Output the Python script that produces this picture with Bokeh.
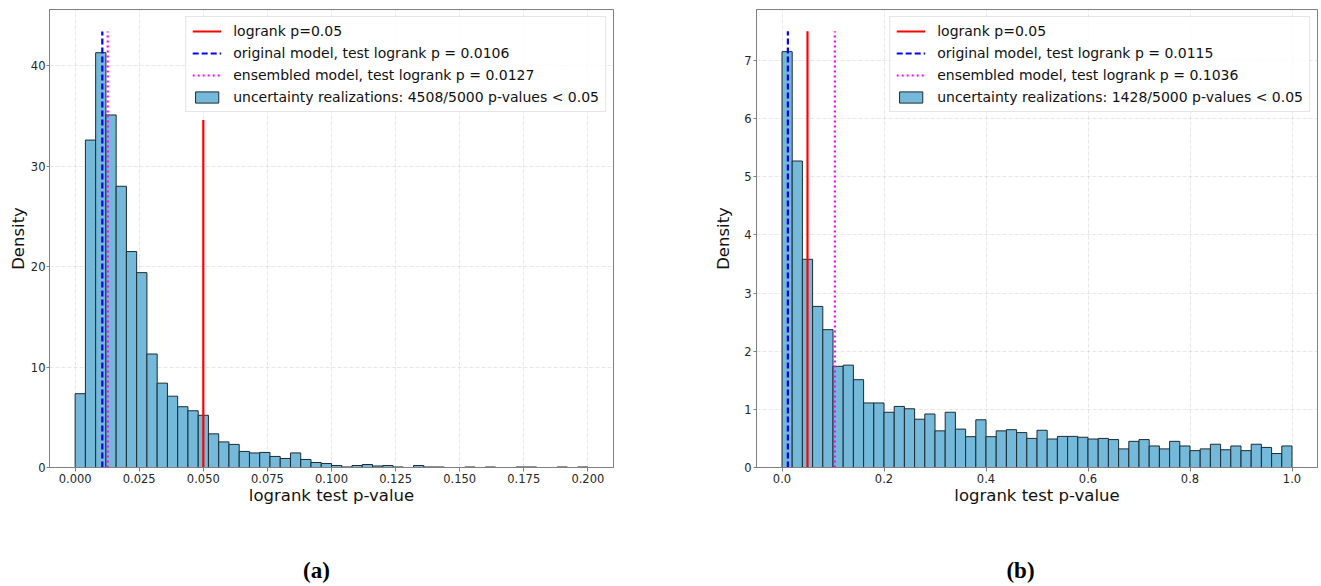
import numpy as np
from bokeh.plotting import figure
from bokeh.models import (Range1d, FixedTicker, PrintfTickFormatter, Legend,
                          LegendItem)
from bokeh.layouts import row, column
from bokeh.core.properties import value
from bokeh.embed import file_html
from bokeh.resources import INLINE

# ---------------- Panel (a) data ----------------
a_bin_min, a_bin_max = 0.0, 0.2
a_density = [7.35, 32.6, 41.3, 35.1, 28.0, 21.5, 19.4, 11.3, 8.4, 7.1,
             6.05, 5.65, 5.2, 3.35, 2.55, 2.3, 1.6, 1.45, 1.5, 1.1,
             0.9, 1.45, 0.8, 0.5, 0.4, 0.2, 0.05, 0.2, 0.3, 0.15,
             0.2, 0.05, 0.0, 0.2, 0.05, 0.05, 0.0, 0.0, 0.05, 0.0,
             0.05, 0.0, 0.0, 0.05, 0.05, 0.0, 0.0, 0.05, 0.0, 0.05]
a_threshold = 0.05
a_threshold_top = 34.6
a_original_p = 0.0106
a_ensembled_p = 0.0127
a_model_top = 43.4
a_xticks = [0.0, 0.025, 0.05, 0.075, 0.1, 0.125, 0.15, 0.175, 0.2]
a_yticks = [0, 10, 20, 30, 40]
a_labels = ["logrank p=0.05",
            "original model, test logrank p = 0.0106",
            "ensembled model, test logrank p = 0.0127",
            "uncertainty realizations: 4508/5000 p-values < 0.05"]

# ---------------- Panel (b) data ----------------
b_bin_min, b_bin_max = 0.0, 1.0
b_density = [7.15, 5.27, 3.58, 2.77, 2.37, 1.74, 1.76, 1.51, 1.11, 1.11,
             0.95, 1.05, 1.01, 0.83, 0.92, 0.63, 0.95, 0.66, 0.53, 0.82,
             0.53, 0.63, 0.65, 0.60, 0.50, 0.64, 0.49, 0.535, 0.535, 0.52,
             0.49, 0.50, 0.48, 0.32, 0.45, 0.48, 0.37, 0.32, 0.45, 0.37,
             0.29, 0.32, 0.40, 0.305, 0.37, 0.29, 0.40, 0.345, 0.24, 0.37]
b_threshold = 0.05
b_threshold_top = 7.5
b_original_p = 0.0115
b_ensembled_p = 0.1036
b_model_top = 7.5
b_xticks = [0.0, 0.2, 0.4, 0.6, 0.8, 1.0]
b_yticks = [0, 1, 2, 3, 4, 5, 6, 7]
b_labels = ["logrank p=0.05",
            "original model, test logrank p = 0.0115",
            "ensembled model, test logrank p = 0.1036",
            "uncertainty realizations: 1428/5000 p-values < 0.05"]

# ---------------- Captions ----------------
captions = ["(a)", "(b)"]

BAR_FILL = "#74b9d9"
BAR_EDGE = "#1e2a30"
FONT = "DejaVu Sans"


def make_panel(width, border_left, border_right, x_range, y_range,
               bin_min, bin_max, density, threshold, threshold_top,
               original_p, ensembled_p, model_top, xticks, yticks, xfmt,
               labels, label_standoff, ylabel_standoff):
    p = figure(width=width, height=540, x_range=Range1d(*x_range),
               y_range=Range1d(*y_range), output_backend="svg",
               toolbar_location=None, min_border_left=border_left,
               min_border_right=border_right, min_border_top=9,
               min_border_bottom=73)
    p.background_fill_color = "white"
    p.border_fill_color = "white"
    p.outline_line_color = "#808080"
    p.outline_line_width = 1

    edges = np.linspace(bin_min, bin_max, len(density) + 1)
    hist = p.quad(left=edges[:-1], right=edges[1:], bottom=0, top=density,
                  fill_color=BAR_FILL, line_color=BAR_EDGE, line_width=1)
    red = p.segment(x0=[threshold], y0=[0], x1=[threshold], y1=[threshold_top],
                    line_color="red", line_width=2.2)
    blue = p.segment(x0=[original_p], y0=[0], x1=[original_p], y1=[model_top],
                     line_color="blue", line_width=2.2, line_dash="6 3")
    mag = p.segment(x0=[ensembled_p], y0=[0], x1=[ensembled_p], y1=[model_top],
                    line_color="magenta", line_width=2.2, line_dash="2 3")

    xt = FixedTicker(ticks=xticks)
    yt = FixedTicker(ticks=yticks)
    p.xaxis.ticker = xt
    p.yaxis.ticker = yt
    p.xgrid.ticker = xt
    p.ygrid.ticker = yt
    p.xaxis.formatter = PrintfTickFormatter(format=xfmt)
    p.yaxis.formatter = PrintfTickFormatter(format="%d")

    for g in (p.xgrid, p.ygrid):
        g.grid_line_color = "#b0b0b0"
        g.grid_line_alpha = 0.3
        g.grid_line_dash = "4 2"
        g.grid_line_width = 1

    for ax in (p.xaxis, p.yaxis):
        ax.axis_line_color = "#808080"
        ax.major_tick_line_color = "#808080"
        ax.major_tick_out = 4
        ax.major_tick_in = 0
        ax.minor_tick_line_color = None
        ax.major_label_text_font = FONT
        ax.major_label_text_font_size = "11.5px"
        ax.major_label_text_color = "#262626"
        ax.major_label_standoff = 2
        ax.axis_label_text_font = FONT
        ax.axis_label_text_font_size = "16.5px"
        ax.axis_label_text_font_style = "normal"
        ax.axis_label_text_color = "#111111"
    p.yaxis.major_tick_out = 3
    p.yaxis.major_label_standoff = ylabel_standoff
    p.xaxis.axis_label = "logrank test p-value"
    p.xaxis.axis_label_standoff = 0
    p.yaxis.axis_label = "Density"
    p.yaxis.axis_label_standoff = label_standoff

    legend = Legend(items=[LegendItem(label=labels[0], renderers=[red]),
                           LegendItem(label=labels[1], renderers=[blue]),
                           LegendItem(label=labels[2], renderers=[mag]),
                           LegendItem(label=labels[3], renderers=[hist])],
                    location="top_right")
    legend.margin = 7
    legend.padding = 6
    legend.spacing = 6
    legend.glyph_width = 29
    legend.glyph_height = 14
    legend.label_height = 14
    legend.label_standoff = 12
    legend.label_text_font = FONT
    legend.label_text_font_size = "14px"
    legend.label_text_color = "#111111"
    legend.border_line_color = "#cccccc"
    legend.border_line_width = 1
    legend.background_fill_alpha = 0.8
    p.add_layout(legend)
    return p


p1 = make_panel(708, 49, 95, (-0.01, 0.21), (0, 45.6),
                a_bin_min, a_bin_max, a_density, a_threshold, a_threshold_top,
                a_original_p, a_ensembled_p, a_model_top, a_xticks, a_yticks,
                "%.3f", a_labels, 0, 1)
p2 = make_panel(613, 48, 4, (-0.05, 1.05), (0, 7.875),
                b_bin_min, b_bin_max, b_density, b_threshold, b_threshold_top,
                b_original_p, b_ensembled_p, b_model_top, b_xticks, b_yticks,
                "%.1f", b_labels, 8, 2)

# caption strip below both panels (pixel coordinates of the strip)
cap = figure(width=1321, height=45, x_range=Range1d(0, 1321),
             y_range=Range1d(0, 45), output_backend="svg",
             toolbar_location=None, min_border=0)
cap.axis.visible = False
cap.grid.visible = False
cap.outline_line_color = None
cap.text(x=[316, 1020], y=[15, 15], text=captions,
         text_font=value("Liberation Serif"), text_font_style="bold",
         text_font_size="23px", text_align="center", text_baseline="middle",
         text_color="black")

layout = column(row(p1, p2), cap)
open("out.html", "w").write(file_html(layout, INLINE))
